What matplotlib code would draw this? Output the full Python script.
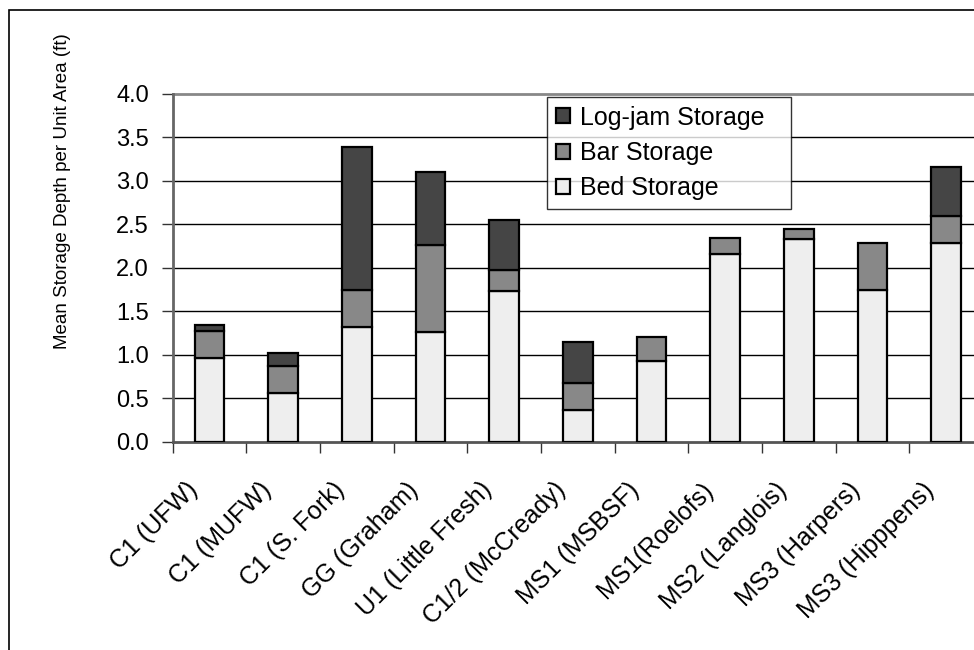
import matplotlib
matplotlib.use("Agg")
import matplotlib.pyplot as plt
import matplotlib.patches as mpatches
import matplotlib.transforms as mtransforms
import numpy as np

plt.rcParams['font.family'] = ['Liberation Sans', 'DejaVu Sans']

categories = ["C1 (UFW)", "C1 (MUFW)", "C1 (S. Fork)", "GG (Graham)", "U1 (Little Fresh)",
              "C1/2 (McCready)", "MS1 (MSBSF)", "MS1(Roelofs)", "MS2 (Langlois)",
              "MS3 (Harpers)", "MS3 (Hipppens)"]
bed = [0.96, 0.56, 1.32, 1.26, 1.73, 0.36, 0.93, 2.16, 2.33, 1.74, 2.29]
bar = [0.31, 0.31, 0.43, 1.00, 0.25, 0.31, 0.27, 0.18, 0.12, 0.55, 0.31]
logjam = [0.07, 0.15, 1.64, 0.84, 0.57, 0.48, 0.00, 0.00, 0.00, 0.00, 0.56]
yticks = [0.0, 0.5, 1.0, 1.5, 2.0, 2.5, 3.0, 3.5, 4.0]

W, H = 974, 650
fig = plt.figure(figsize=(W / 100, H / 100), dpi=100)

# outer border (left and top visible)
fig.patches.append(mpatches.Rectangle((9 / W, -0.1), 1.2, 1 - 10 / H + 0.1,
                                      transform=fig.transFigure, fill=False,
                                      edgecolor='black', linewidth=1.2))

left, right = 172.7, 983.0
bottom, top = 441.7, 94.0
ax = fig.add_axes([left / W, 1 - bottom / H, (right - left) / W, (bottom - top) / H])

x = np.arange(len(categories))
bw = 0.4
ec = 'black'
lw = 1.6
c_bed, c_bar, c_log = '#eeeeee', '#888888', '#454545'
b1 = ax.bar(x, bed, bw, color=c_bed, edgecolor=ec, linewidth=lw, zorder=3, label='Bed Storage')
b2 = ax.bar(x, bar, bw, bottom=bed, color=c_bar, edgecolor=ec, linewidth=lw, zorder=3, label='Bar Storage')
base2 = np.array(bed) + np.array(bar)
lj = np.array(logjam)
b3 = ax.bar(x[lj > 0], lj[lj > 0], bw, bottom=base2[lj > 0], color=c_log, edgecolor=ec,
            linewidth=lw, zorder=3, label='Log-jam Storage')

FS = 17
ax.set_xlim(-0.5, len(categories) - 0.5)
ax.set_ylim(0, 4.0)
ax.set_yticks(yticks)
ax.set_yticklabels([f"{v:.1f}" for v in yticks], fontsize=FS)
for v in yticks[1:-1]:
    ax.axhline(v, color='black', linewidth=1.0, zorder=1)
ax.axhline(4.0, color='#888888', linewidth=2.0, zorder=1, clip_on=False)

ax.set_xticks(x)
ax.set_xticklabels(categories, rotation=45, ha='right', va='top', rotation_mode='anchor',
                   fontsize=18)
ax.tick_params(axis='x', length=0, pad=26)
offset = mtransforms.ScaledTranslation(-24 / 100, 0, fig.dpi_scale_trans)
for lab in ax.get_xticklabels():
    lab.set_transform(lab.get_transform() + offset)
ax.set_xticks(np.arange(-0.5, len(categories), 1.0), minor=True)
ax.tick_params(axis='x', which='minor', length=8, width=1.0, color='#333333')
ax.tick_params(axis='y', length=8, width=1.0, color='#333333', pad=9)

for s in ['top', 'right']:
    ax.spines[s].set_visible(False)
ax.spines['left'].set_color('#666666')
ax.spines['left'].set_linewidth(2.0)
ax.spines['bottom'].set_color('#555555')
ax.spines['bottom'].set_linewidth(2.0)

fig.text(63 / W, 1 - 191.5 / H, "Mean Storage Depth per Unit Area (ft)", rotation=90,
         ha='center', va='center', fontsize=13.5)

axw = right - left
axh = bottom - top
leg = ax.legend(handles=[b3, b2, b1], loc='upper left',
                bbox_to_anchor=((547 - left) / axw, (bottom - 206) / axh,
                                (791 - 547) / axw, (206 - 97) / axh),
                mode='expand',
                fontsize=18, frameon=True, fancybox=False, shadow=False,
                handlelength=0.55, handleheight=0.55, handletextpad=0.4,
                borderpad=0.35, labelspacing=0.45, borderaxespad=0)
leg.get_frame().set_edgecolor('black')
leg.get_frame().set_linewidth(1.0)
leg.set_zorder(5)

fig.savefig("out.png", dpi=100)
